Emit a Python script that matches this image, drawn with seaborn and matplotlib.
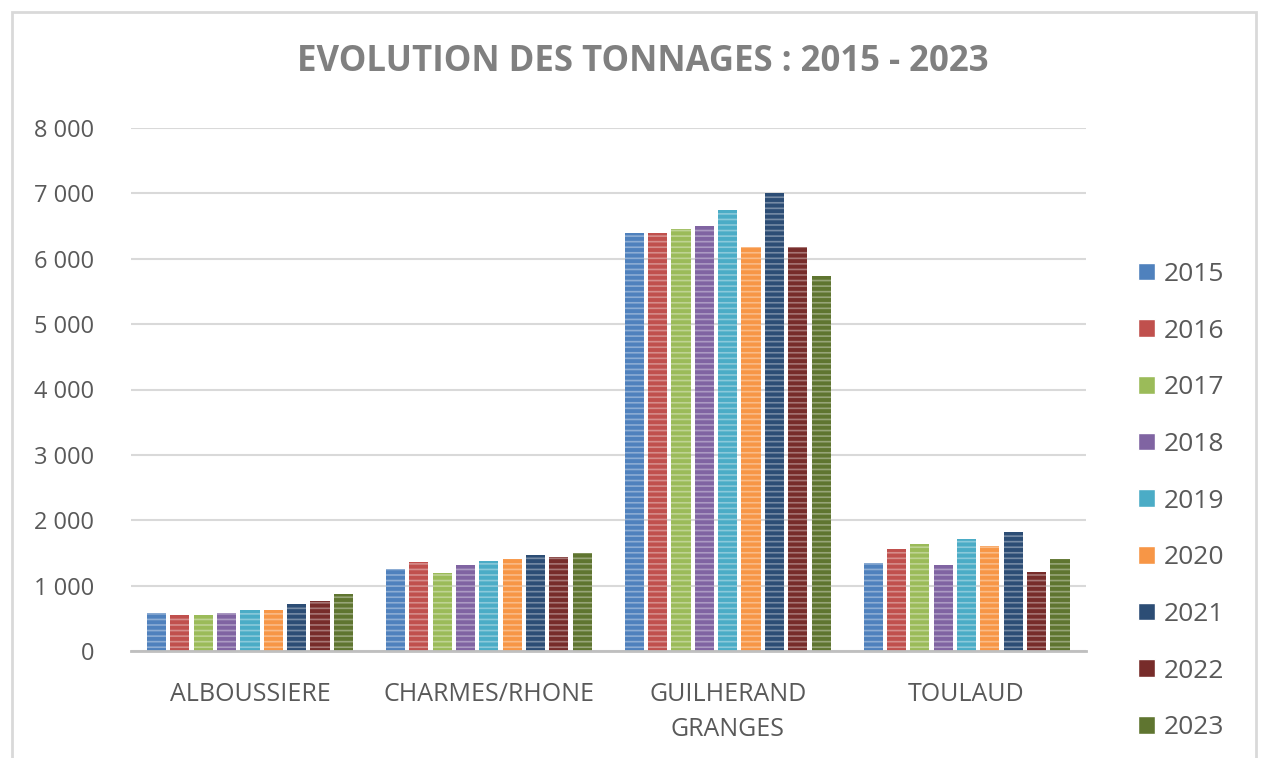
import numpy as np
import matplotlib
matplotlib.use("Agg")
import matplotlib.pyplot as plt
import matplotlib.colors as mcolors
from matplotlib.ticker import FuncFormatter
from matplotlib.patches import Rectangle
import pandas as pd
import seaborn as sns

# Data
communes = ['ALBOUSSIERE', 'CHARMES/RHONE', 'GUILHERAND\nGRANGES', 'TOULAUD']
years = ['2015', '2016', '2017', '2018', '2019', '2020', '2021', '2022', '2023']
albouss = [580, 550, 550, 580, 625, 625, 720, 765, 870]
charmes = [1250, 1360, 1190, 1315, 1375, 1405, 1465, 1435, 1500]
guilherand = [6400, 6400, 6450, 6500, 6745, 6175, 7000, 6175, 5735]
toulaud = [1345, 1560, 1635, 1315, 1710, 1605, 1820, 1210, 1405]

# Excel-like palette
colors = ['#4F81BD', '#C0504D', '#9BBB59', '#8064A2', '#4BACC6',
          '#F79646', '#2C4D75', '#772C2A', '#5F7530']

rows = []
for commune, vals in zip(communes, [albouss, charmes, guilherand, toulaud]):
    for y, v in zip(years, vals):
        rows.append({'commune': commune, 'annee': y, 'tonnage': v})
df = pd.DataFrame(rows)

sns.set_theme(style="white")
plt.rcParams['font.family'] = ['Open Sans', 'DejaVu Sans']
plt.rcParams['hatch.linewidth'] = 1.2

fig = plt.figure(figsize=(12.61, 7.58), dpi=100)
ax = fig.add_axes([130.5/1261, 1-651/758, (1086-130.5)/1261, (651-128)/758])

sns.barplot(data=df, x='commune', y='tonnage', hue='annee', palette=colors,
            width=0.88, gap=0.18, ax=ax, saturation=1)

# Light horizontal stripes on the bars
def lighten(c, f=0.35):
    r, g, b = mcolors.to_rgb(c)
    return (r + (1-r)*f, g + (1-g)*f, b + (1-b)*f)

for cont, c in zip(ax.containers, colors):
    for p in cont:
        p.set_hatch('---')
        p.set_edgecolor(lighten(c))
        p.set_linewidth(0)

ax.set_ylim(0, 8000)
ax.set_xlim(-0.5, 3.5)
ax.set_yticks(np.arange(0, 8001, 1000))
ax.yaxis.set_major_formatter(FuncFormatter(lambda v, p: f"{int(v):,}".replace(',', ' ')))
ax.grid(axis='y', color='#D9D9D9', linewidth=1.5)
ax.set_axisbelow(True)
for s in ['top', 'right', 'left']:
    ax.spines[s].set_visible(False)
ax.spines['bottom'].set_color('#BFBFBF')
ax.spines['bottom'].set_linewidth(2)
ax.tick_params(axis='y', length=0, pad=26, labelsize=17, labelcolor='#595959')
ax.tick_params(axis='x', length=0, pad=22, labelsize=18, labelcolor='#595959')
ax.set_xlabel('')
ax.set_ylabel('')
for t in ax.get_xticklabels():
    t.set_linespacing(1.55)

ax.legend(loc='center left', bbox_to_anchor=(1114/1261, 1-501/758),
          bbox_transform=fig.transFigure, frameon=False, fontsize=19,
          labelspacing=1.2, handlelength=0.65, handleheight=0.65,
          handletextpad=0.35, labelcolor='#595959')

fig.text(643/1261, 1-62/758, 'EVOLUTION DES TONNAGES : 2015 - 2023',
         ha='center', va='center', fontsize=25, fontweight='bold', color='#808080')

# Chart frame
fig.patches.append(Rectangle((12/1261, -0.02), (1256-12)/1261, 1-12/758+0.02,
                             transform=fig.transFigure, fill=False,
                             edgecolor='#D9D9D9', linewidth=2))

fig.savefig('out.png', dpi=100, facecolor='white')
